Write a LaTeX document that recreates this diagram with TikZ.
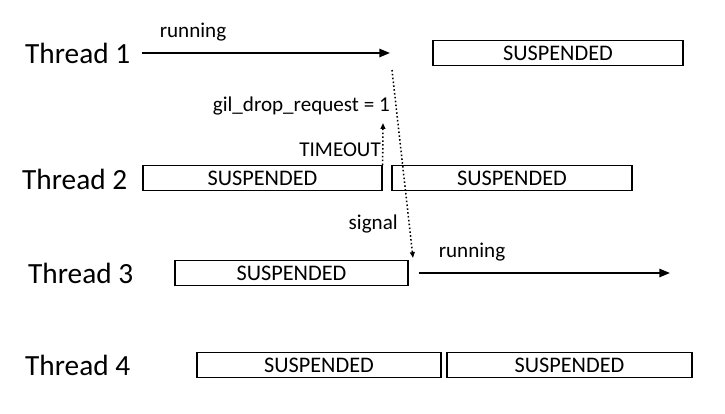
\documentclass[tikz,border=0pt]{standalone}
\usepackage{fontspec}
\setmainfont{Carlito}
\usetikzlibrary{positioning,calc}
\usetikzlibrary{arrows.meta}

\tikzset{
  threadlbl/.style={font=\fontsize{25}{29}\selectfont, anchor=west, inner sep=0pt},
  smalllbl/.style={font=\fontsize{18}{21}\selectfont, inner sep=0pt},
  suspbox/.style={draw=black, line width=1.1pt, inner sep=0pt, minimum height=0.74cm,
    font=\fontsize{19}{22}\selectfont},
  runarrow/.style={line width=1.6pt, -{Triangle[length=9pt,width=7pt]}},
  dotarrow/.style={dotted, line width=1.3pt, -{Triangle[length=5pt,width=4pt]}}
}

\begin{document}
\begin{tikzpicture}[x=0.03cm,y=-0.03cm]
				\useasboundingbox (0,0) rectangle (725,413);
				
				\foreach \i/\x/\y in {1/25/53,2/22/179,3/28/273,4/25/365}
				\node[threadlbl] (t\i) at (\x,\y) {Thread \i};
				
				\foreach \n/\xa/\xb/\y in {s1/433/683/53,s2a/143/382/178,s2b/392/632/178,
					s3/175/408/273,s4a/197/441/365,s4b/447/692/365}
				\node[suspbox,minimum width={(\xb-\xa)*0.03cm}] (\n) at ({(\xa+\xb)/2},\y) {SUSPENDED};
				
				\coordinate (r1end) at (390,53);
				\coordinate (r3end) at (670,273);
				\draw[runarrow] ([xshift=0.36cm]t1.east) -- (r1end);
				\draw[runarrow] ([xshift=0.3cm]s3.east) -- (r3end);
				\node[smalllbl] (run1) at (193,32) {running};
				\node[smalllbl] (run3) at (472,252) {running};
				
				\node[smalllbl,anchor=east] (gil) at (390,106) {gil\_drop\_request = 1};
				\node[smalllbl,anchor=east] (tmo) at (381,150) {TIMEOUT};
				\node[smalllbl,anchor=east] (sgl) at (398,224) {signal};
				
				\coordinate (tmotip) at (383,123);
				\draw[dotarrow] (s2a.north east) -- (tmotip);
				\coordinate (sigstart) at (392,70);
				\coordinate (sigtip) at (413,258);
				\draw[dotarrow] (sigstart) -- (sigtip);
			\end{tikzpicture}
\end{document}
